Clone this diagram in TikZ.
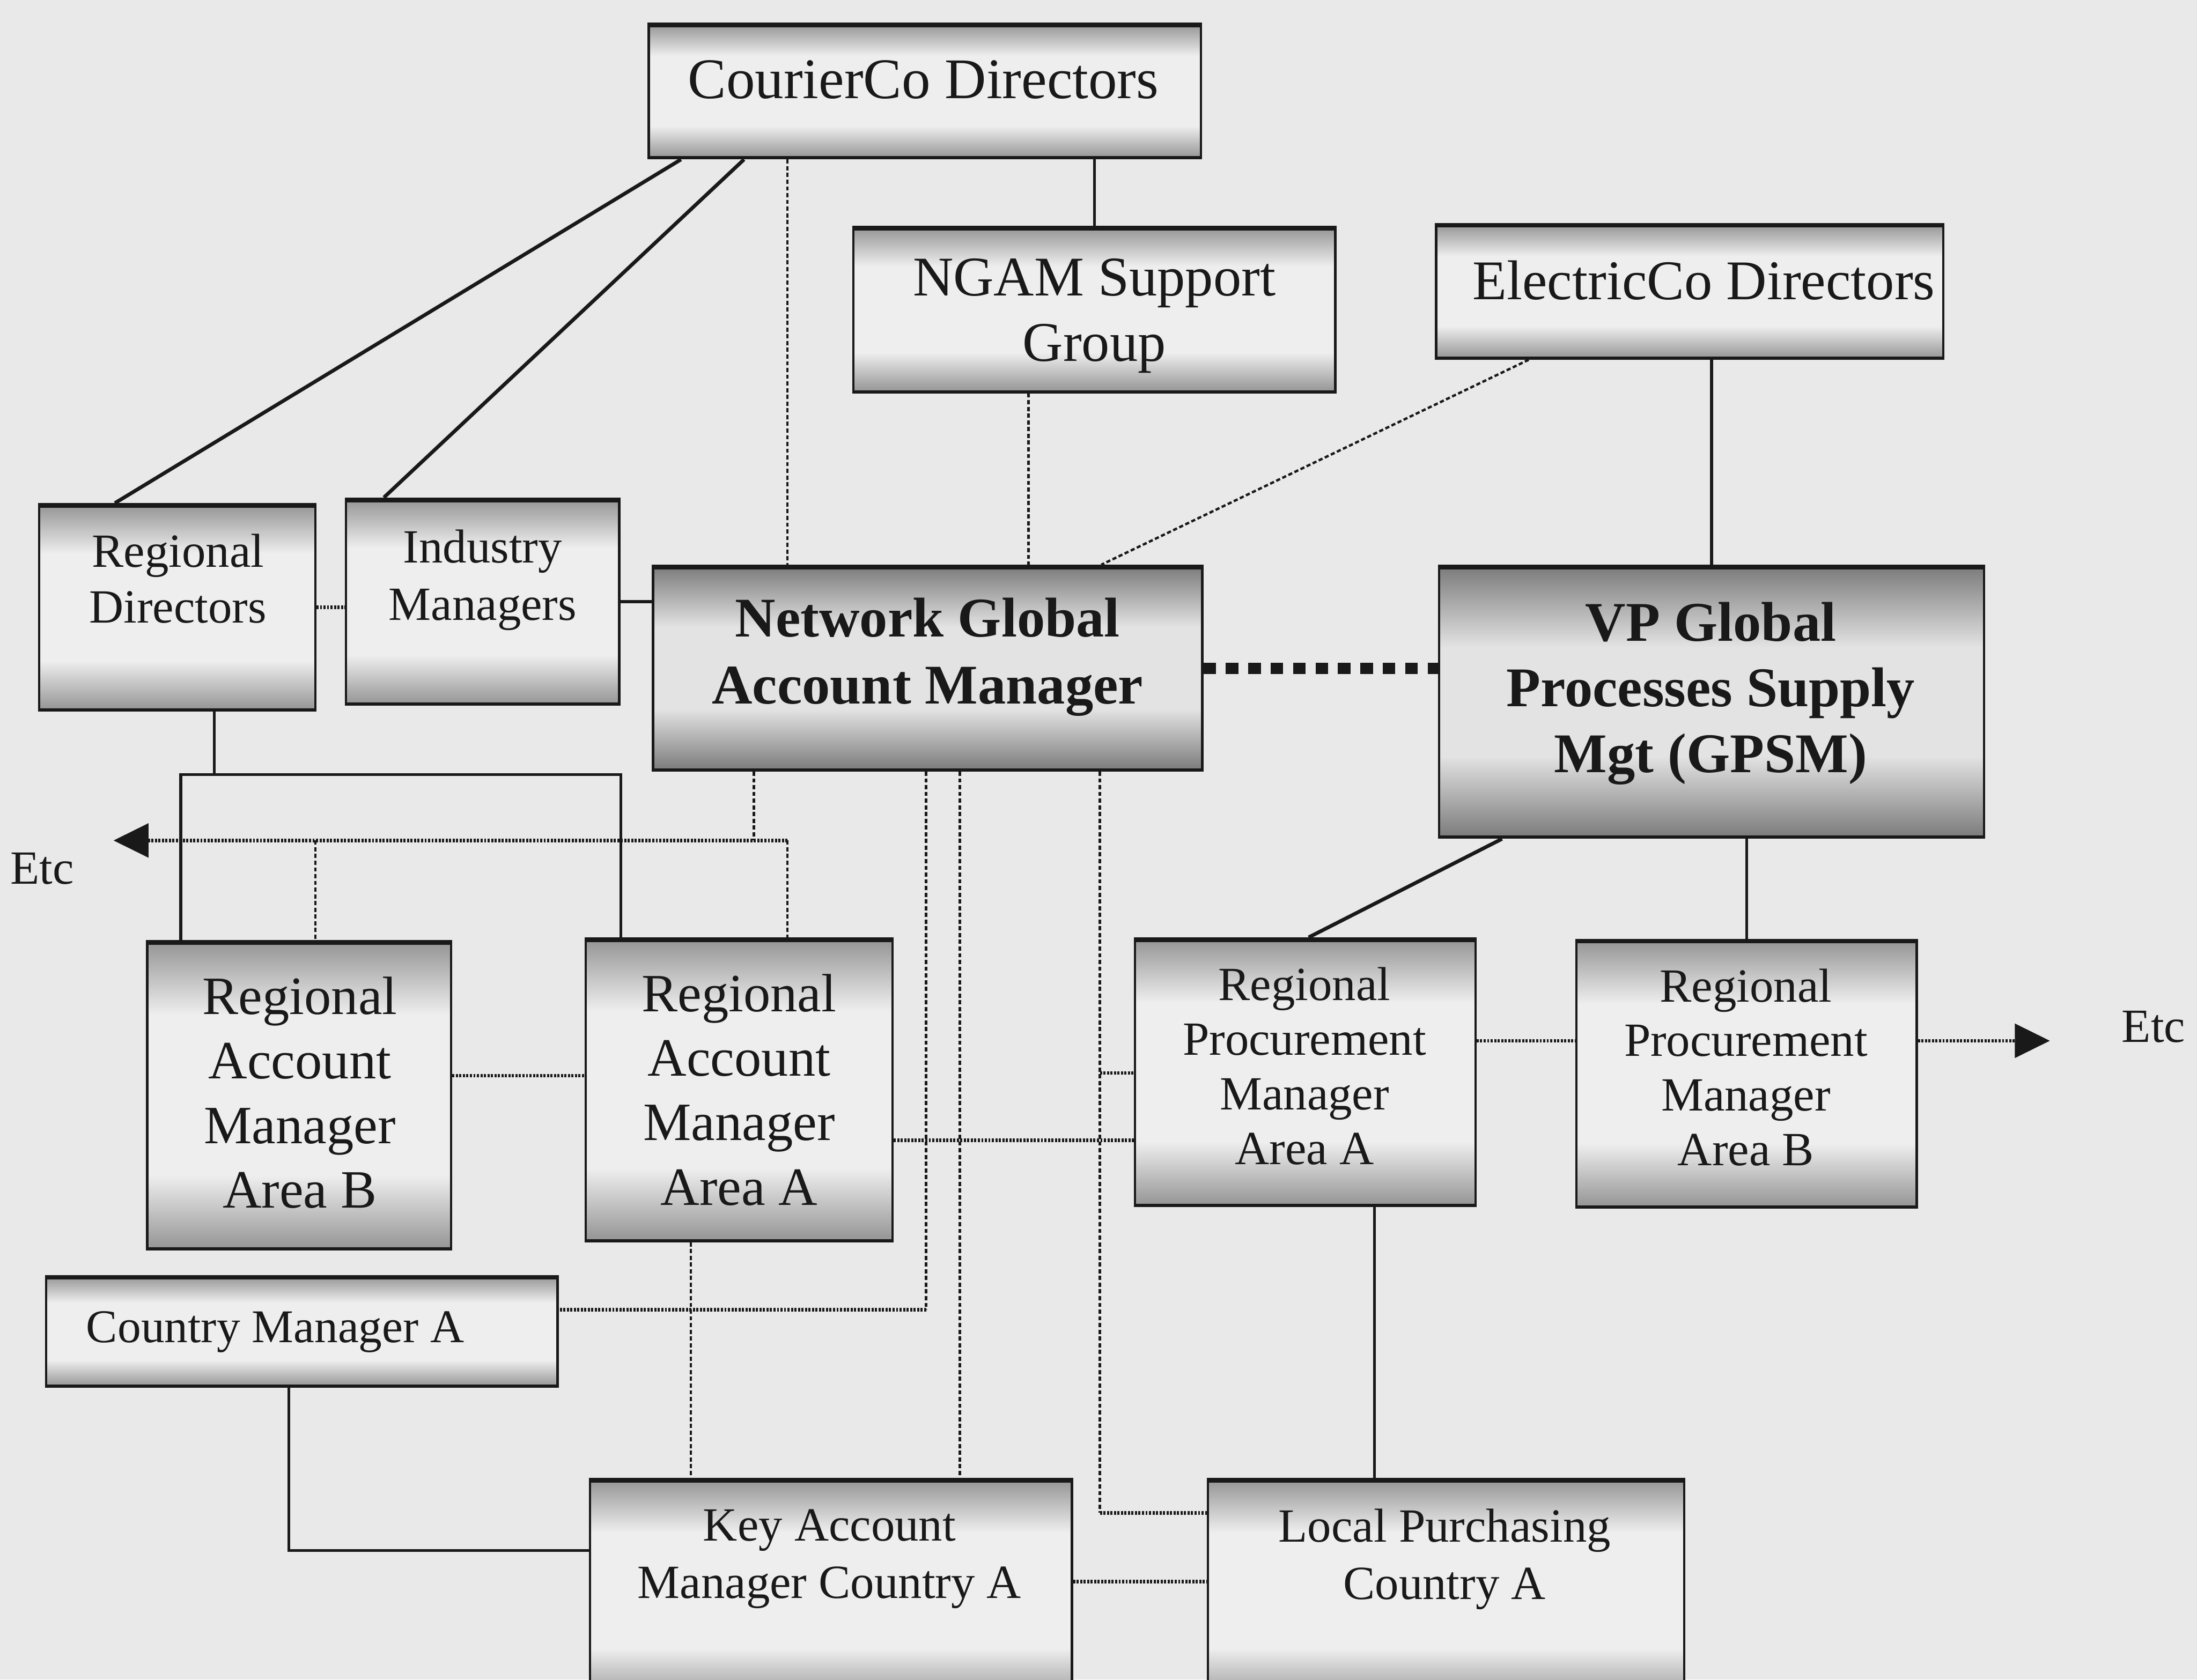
\documentclass[tikz,border=0pt]{standalone}
\usepackage{fontspec}
\setmainfont{Liberation Serif}
\usetikzlibrary{arrows.meta,calc}

\definecolor{paper}{gray}{0.915}
\definecolor{ink}{gray}{0.1}
\definecolor{bandgray}{gray}{0.58}
\definecolor{facegray}{gray}{0.935}
\definecolor{bandgraybold}{gray}{0.48}
\definecolor{facegraybold}{gray}{0.89}

% box fill: darker bands at top and bottom, light face in between
\pgfdeclareverticalshading{orgshade}{100bp}{color(0bp)=(bandgray); color(25bp)=(bandgray); color(37bp)=(facegray); color(63bp)=(facegray); color(75bp)=(bandgray); color(100bp)=(bandgray)}
\pgfdeclareverticalshading{orgshadebold}{100bp}{color(0bp)=(bandgraybold); color(25bp)=(bandgraybold); color(40bp)=(facegraybold); color(60bp)=(facegraybold); color(75bp)=(bandgraybold); color(100bp)=(bandgraybold)}

\begin{document}
\begin{tikzpicture}[x=1pt,y=-1pt,
  orgbox/.style={draw=ink, line width=1.7pt, shade, shading=orgshade, inner sep=0pt,
    path picture={
      \draw[ink, line width=5pt] (path picture bounding box.north west) -- (path picture bounding box.north east);
      \draw[ink, line width=3pt] (path picture bounding box.south west) -- (path picture bounding box.south east);}},
  orgboxbold/.style={orgbox, shading=orgshadebold},
  lbl/.style={align=center, inner sep=0pt, text=ink},
  link/.style={draw=ink, line width=2pt},
  diag/.style={draw=ink, line width=2.6pt},
  vdot/.style={draw=ink, line width=1.7pt, dash pattern=on 3pt off 1.8pt},
  hdot/.style={draw=ink, line width=2.5pt, dash pattern=on 1.5pt off 1pt},
  bigdot/.style={draw=ink, line width=8pt, dash pattern=on 9pt off 7pt},
  etcarrow/.style={-{Triangle[length=25pt,width=24pt]}}
]
\useasboundingbox (0,0) rectangle (1568,1199);
\clip (0,0) rectangle (1568,1199);
\fill[paper] (0,0) rectangle (1568,1199);

% ---------- boxes ----------
\node[orgbox, minimum width=394pt, minimum height=96pt]  (cd)   at (660,65) {};
\node[orgbox, minimum width=344pt, minimum height=118pt] (sg)   at (781,221) {};
\node[orgbox, minimum width=362pt, minimum height=96pt]  (ec)   at (1206,208) {};
\node[orgbox, minimum width=197pt, minimum height=147pt] (rd)   at (126.5,433.5) {};
\node[orgbox, minimum width=195pt, minimum height=147pt] (im)   at (344.5,429.5) {};
\node[orgboxbold, minimum width=392pt, minimum height=146pt] (ngam) at (662,477) {};
\node[orgboxbold, minimum width=389pt, minimum height=194pt] (vp)   at (1221.5,501) {};
\node[orgbox, minimum width=217pt, minimum height=220pt] (ramb) at (213.5,782) {};
\node[orgbox, minimum width=219pt, minimum height=216pt] (rama) at (527.5,778) {};
\node[orgbox, minimum width=243pt, minimum height=191pt] (rpma) at (931.5,765.5) {};
\node[orgbox, minimum width=243pt, minimum height=191pt] (rpmb) at (1246.5,766.5) {};
\node[orgbox, minimum width=365pt, minimum height=79pt]  (cma)  at (215.5,950.5) {};
\node[orgbox, minimum width=344pt, minimum height=159pt] (kam)  at (593,1135.5) {};
\node[orgbox, minimum width=340pt, minimum height=159pt] (lp)   at (1032,1135.5) {};

% ---------- box texts ----------
\node[lbl, font=\fontsize{41}{48}\selectfont] (cd-t) at (659,57) {CourierCo Directors};
\node[lbl, font=\fontsize{40}{47}\selectfont] (sg-t) at (781,225.5) {NGAM Support\\Group};
\node[lbl, font=\fontsize{40}{47}\selectfont] (ec-t) at (1216,200) {ElectricCo Directors};
\node[lbl, font=\fontsize{34}{40}\selectfont] (rd-t) at (127,413) {Regional\\Directors};
\node[lbl, font=\fontsize{34}{41}\selectfont] (im-t) at (344.5,414) {Industry\\Managers};
\node[lbl, font=\bfseries\fontsize{40}{48}\selectfont] (ngam-t) at (662,469) {Network Global\\Account Manager};
\node[lbl, font=\bfseries\fontsize{40}{47}\selectfont] (vp-t) at (1221,495) {VP Global\\Processes Supply\\Mgt (GPSM)};
\node[lbl, font=\fontsize{38.5}{46}\selectfont] (ramb-t) at (214,780) {Regional\\Account\\Manager\\Area B};
\node[lbl, font=\fontsize{38.5}{46}\selectfont] (rama-t) at (527.5,778) {Regional\\Account\\Manager\\Area A};
\node[lbl, font=\fontsize{34}{39}\selectfont] (rpma-t) at (931,761) {Regional\\Procurement\\Manager\\Area A};
\node[lbl, font=\fontsize{34}{39}\selectfont] (rpmb-t) at (1246,762) {Regional\\Procurement\\Manager\\Area B};
\node[lbl, font=\fontsize{33.5}{40}\selectfont] (cma-t) at (196.5,951) {Country Manager A};
\node[lbl, font=\fontsize{34}{41}\selectfont] (kam-t) at (592,1113) {Key Account\\Manager Country A};
\node[lbl, font=\fontsize{34}{41}\selectfont] (lp-t) at (1031,1113) {Local Purchasing\\Country A};
\node[lbl, font=\fontsize{34}{40}\selectfont] (etcl) at (30,620) {Etc};
\node[lbl, font=\fontsize{34}{40}\selectfont] (etcr) at (1537,733) {Etc};

% ---------- junction points ----------
\coordinate (k1) at (486,0);   \coordinate (k3) at (82,0);
\coordinate (k2) at (531,0);   \coordinate (k4) at (274,0);
\coordinate (k5) at (1072,0);  \coordinate (k6) at (934,0);
\coordinate (k7) at (981,0);
\coordinate (rdj) at (153,553);
\coordinate (rdL) at (129,553);
\coordinate (rdR) at (443,553);
\coordinate (s1) at (206,1107);
\coordinate (d1) at (562,0);
\coordinate (d2) at (734,0);
\coordinate (d3) at (1091,0);
\coordinate (d4) at (786,0);
\coordinate (e1) at (538,600);
\coordinate (e2) at (562,600);
\coordinate (e3) at (225,600);
\coordinate (tipL) at (81,600);
\coordinate (v1) at (493,0);
\coordinate (f1) at (661,935);
\coordinate (f2) at (685,0);
\coordinate (f3) at (785,1080);
\coordinate (h1) at (0,768);
\coordinate (h2) at (0,814);
\coordinate (h3) at (785,766);
\coordinate (h4) at (0,743);
\coordinate (h5) at (0,1129);
\coordinate (tipR) at (1463,743);

% ---------- solid reporting lines ----------
\draw[diag] (k1 |- cd.south) -- (k3 |- rd.north);
\draw[diag] (k2 |- cd.south) -- (k4 |- im.north);
\draw[link] (sg.north |- cd.south) -- (sg.north);
\draw[diag] (im.east) -- (im.east -| ngam.west);
\draw[link] (vp.north |- ec.south) -- (vp.north);
\draw[diag] (k5 |- vp.south) -- (k6 |- rpma.north);
\draw[link] (rpmb.north |- vp.south) -- (rpmb.north);
\draw[link] (k7 |- rpma.south) -- (k7 |- lp.north);
\draw[link] (rdj |- rd.south) -- (rdj);
\draw[link] (rdL |- ramb.north) -- (rdL) -- (rdR) -- (rdR |- rama.north);
\draw[link] (s1 |- cma.south) -- (s1) -- (s1 -| kam.west);

% ---------- dotted links ----------
\draw[hdot] (rd.east) -- (rd.east -| im.west);
\draw[vdot] (d1 |- cd.south) -- (d1 |- ngam.north);
\draw[vdot] (d2 |- sg.south) -- (d2 |- ngam.north);
\draw[vdot] (d3 |- ec.south) -- (d4 |- ngam.north);
\draw[bigdot] (ngam.east) -- (ngam.east -| vp.west);

\draw[vdot] (e1 |- ngam.south) -- (e1);
\draw[hdot, etcarrow] (e2) -- (tipL);
\draw[vdot] (e3) -- (e3 |- ramb.north);
\draw[vdot] (e2) -- (e2 |- rama.north);

\draw[hdot] (ramb.east |- h1) -- (rama.west |- h1);
\draw[vdot] (v1 |- rama.south) -- (v1 |- kam.north);
\draw[vdot] (f1 |- ngam.south) -- (f1);
\draw[hdot] (f1) -- (f1 -| cma.east);
\draw[vdot] (f2 |- ngam.south) -- (f2 |- kam.north);
\draw[hdot] (rama.east |- h2) -- (rpma.west |- h2);
\draw[vdot] (f3 |- ngam.south) -- (f3);
\draw[hdot] (f3) -- (f3 -| lp.west);
\draw[hdot] (h3) -- (h3 -| rpma.west);
\draw[hdot] (rpma.east |- h4) -- (rpmb.west |- h4);
\draw[hdot, etcarrow] (rpmb.east |- h4) -- (tipR);
\draw[hdot] (kam.east |- h5) -- (lp.west |- h5);
\end{tikzpicture}
\end{document}
